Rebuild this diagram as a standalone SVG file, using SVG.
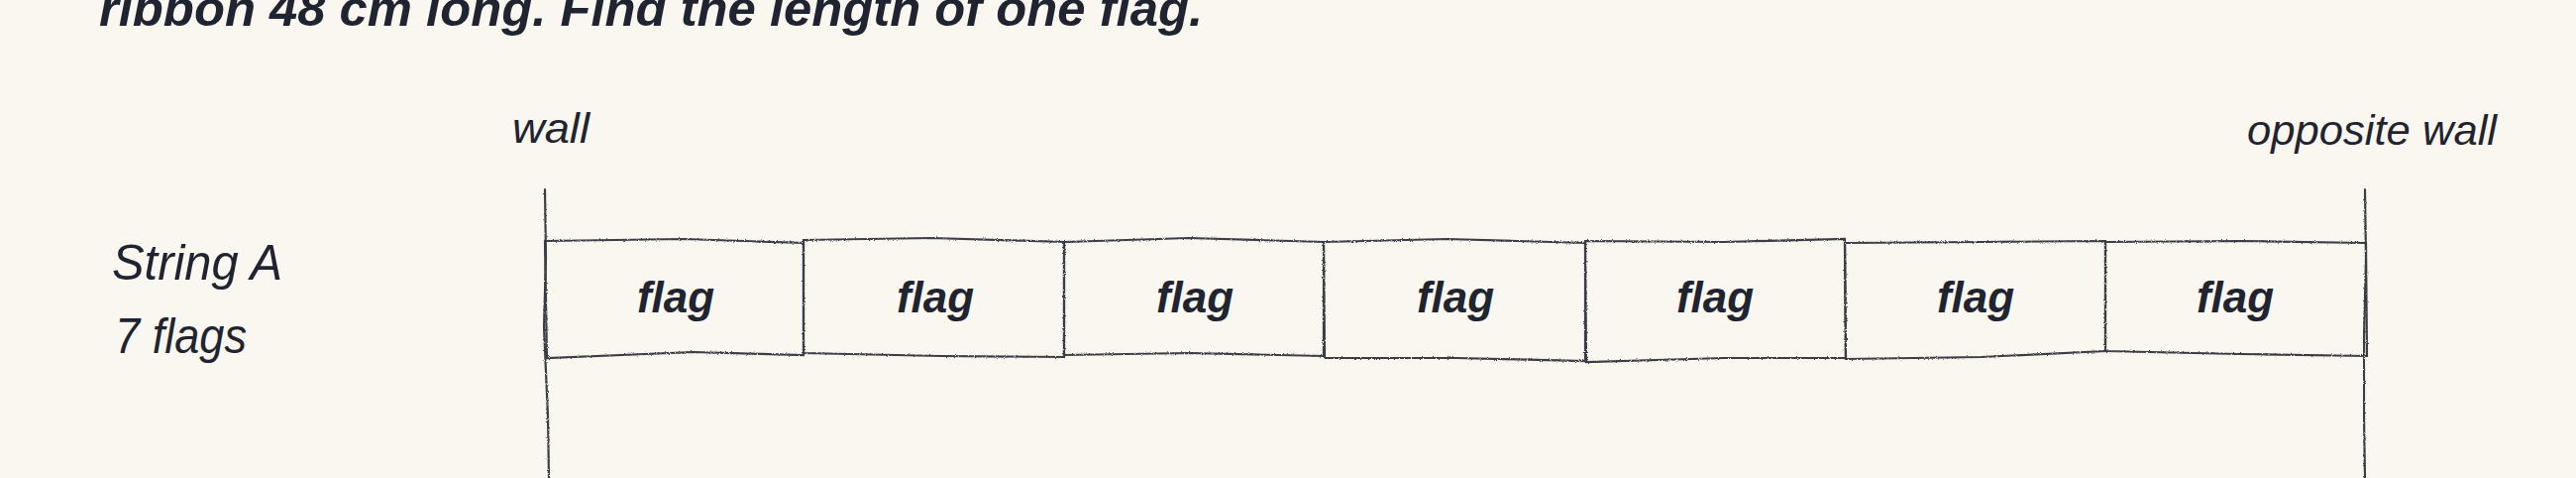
<svg xmlns="http://www.w3.org/2000/svg" width="2600" height="482" viewBox="0 0 2600 482">
<defs>
<style>
.hand{font-family:"Liberation Sans","DejaVu Sans",sans-serif;font-style:italic;fill:#1f2430}
.title{font-size:50px;font-weight:bold}
.lbl{font-size:42px}
.side{font-size:50px}
.flagt{font-size:44px;font-weight:bold;text-anchor:middle}
.pencil{fill:none;stroke:#3b3d44;stroke-width:2.2;stroke-linecap:round;filter:url(#rough)}
</style>
<filter id="rough" x="-5%" y="-5%" width="110%" height="110%">
<feTurbulence type="fractalNoise" baseFrequency="0.9" numOctaves="2" seed="3" result="n"/>
<feDisplacementMap in="SourceGraphic" in2="n" scale="2.5"/>
</filter>
</defs>
<rect width="2600" height="482" fill="#f9f7f0"/>
<text class="hand title" x="100" y="26" textLength="1114" lengthAdjust="spacingAndGlyphs">ribbon 48 cm long. Find the length of one flag.</text>
<g id="wall-left">
<path class="pencil" d="M550 191 L551 260 L549 330 L553 420 L554 482"/>
<text class="hand lbl" x="517" y="144" textLength="78" lengthAdjust="spacingAndGlyphs">wall</text>
</g>
<g id="wall-right">
<path class="pencil" d="M2387 191 L2388 260 L2386 340 L2386 420 L2387 482"/>
<text class="hand lbl" x="2268" y="146" textLength="252" lengthAdjust="spacingAndGlyphs">opposite wall</text>
</g>
<g id="string-a-label">
<text class="hand side" x="113" y="282" textLength="172" lengthAdjust="spacingAndGlyphs">String A</text>
<text class="hand side" x="116" y="356" textLength="133" lengthAdjust="spacingAndGlyphs">7 flags</text>
</g>
<g id="flag1"><path class="pencil" d="M550 243 L690 241 L811 245 L811 358 L700 355 L552 361 Z"/><text class="hand flagt" x="682" y="315">flag</text></g>
<g id="flag2"><path class="pencil" d="M811 242 L940 240 L1074 244 L1074 360 L950 359 L811 356 Z"/><text class="hand flagt" x="944" y="315">flag</text></g>
<g id="flag3"><path class="pencil" d="M1074 244 L1200 240 L1336 244 L1336 359 L1200 356 L1074 358 Z"/><text class="hand flagt" x="1206" y="315">flag</text></g>
<g id="flag4"><path class="pencil" d="M1336 244 L1460 241 L1600 245 L1600 364 L1470 361 L1337 361 Z"/><text class="hand flagt" x="1469" y="315">flag</text></g>
<g id="flag5"><path class="pencil" d="M1600 243 L1740 244 L1862 241 L1863 361 L1740 361 L1601 365 Z"/><text class="hand flagt" x="1731" y="315">flag</text></g>
<g id="flag6"><path class="pencil" d="M1862 245 L2000 244 L2125 243 L2125 354 L2000 360 L1863 362 Z"/><text class="hand flagt" x="1994" y="315">flag</text></g>
<g id="flag7"><path class="pencil" d="M2125 244 L2260 243 L2388 245 L2389 359 L2260 357 L2125 354 Z"/><text class="hand flagt" x="2256" y="315">flag</text></g>
</svg>
